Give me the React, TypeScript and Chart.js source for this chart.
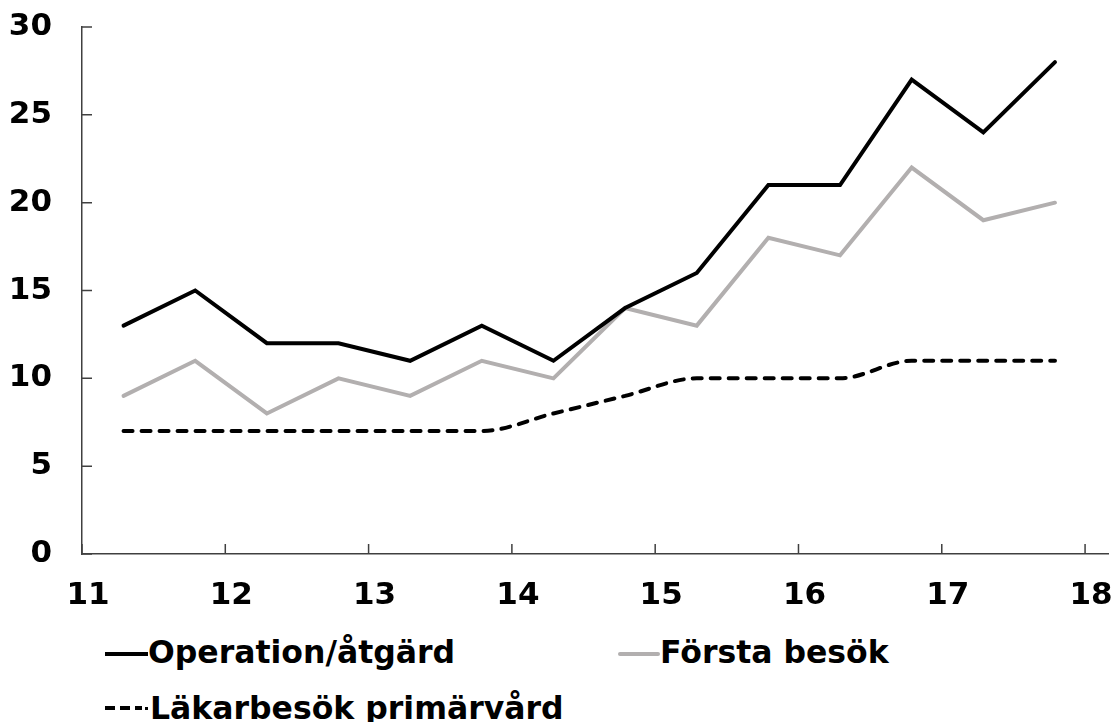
import React, { useEffect, useRef } from "react";
import { Chart, registerables } from "chart.js";

Chart.register(...registerables);

// ---- data ----
const X_VALUES = [11.29, 11.79, 12.29, 12.79, 13.29, 13.79, 14.29, 14.79, 15.29, 15.79, 16.29, 16.79, 17.29, 17.79];
const OPERATION = [13, 15, 12, 12, 11, 13, 11, 14, 16, 21, 21, 27, 24, 28];
const FORSTA_BESOK = [9, 11, 8, 10, 9, 11, 10, 14, 13, 18, 17, 22, 19, 20];
const LAKARBESOK = [7, 7, 7, 7, 7, 7, 8, 9, 10, 10, 10, 11, 11, 11];
const X_TICKS = [11, 12, 13, 14, 15, 16, 17, 18];
const Y_TICKS = [0, 5, 10, 15, 20, 25, 30];
const SERIES_NAMES = ["Operation/åtgärd", "Första besök", "Läkarbesök primärvård"];

const FONT_FAMILY = "'DejaVu Sans', Verdana, sans-serif";
const TICK_FONT_SIZE = 31;
const LEGEND_FONT_SIZE = 31.5;
const BLACK = "#000000";
const GREY = "#B2AFAF";
const AXIS = "#404040";

const CANVAS_W = 1114;
const CANVAS_H = 620;

const inwardTicks = {
  id: "inwardTicks",
  afterDraw(chart: any) {
    const ctx = chart.ctx;
    const xs = chart.scales.x;
    const ys = chart.scales.y;
    const area = chart.chartArea;
    ctx.save();
    ctx.strokeStyle = AXIS;
    ctx.lineWidth = 1.5;
    ctx.beginPath();
    for (const t of ys.ticks) {
      const py = ys.getPixelForValue(t.value);
      ctx.moveTo(area.left, py);
      ctx.lineTo(area.left + 10, py);
    }
    for (const t of xs.ticks) {
      const px = xs.getPixelForValue(t.value);
      ctx.moveTo(px, area.bottom);
      ctx.lineTo(px, area.bottom - 10);
    }
    ctx.stroke();
    ctx.restore();
  },
};

function toPoints(values: number[]) {
  return X_VALUES.map((x, i) => ({ x, y: values[i] }));
}

export default function App() {
  const canvasRef = useRef<HTMLCanvasElement | null>(null);

  useEffect(() => {
    const canvas = canvasRef.current;
    if (!canvas) return;
    const tickFont = { family: FONT_FAMILY, size: TICK_FONT_SIZE, weight: "bold" as const };
    const chart = new Chart(canvas, {
      type: "line",
      data: {
        datasets: [
          {
            label: SERIES_NAMES[0],
            data: toPoints(OPERATION),
            borderColor: BLACK,
            backgroundColor: BLACK,
            borderWidth: 4,
            pointRadius: 0,
            tension: 0,
            borderCapStyle: "round",
            order: 1,
          },
          {
            label: SERIES_NAMES[1],
            data: toPoints(FORSTA_BESOK),
            borderColor: GREY,
            backgroundColor: GREY,
            borderWidth: 4,
            pointRadius: 0,
            tension: 0,
            borderCapStyle: "round",
            order: 2,
          },
          {
            label: SERIES_NAMES[2],
            data: toPoints(LAKARBESOK),
            borderColor: BLACK,
            backgroundColor: BLACK,
            borderWidth: 4,
            pointRadius: 0,
            cubicInterpolationMode: "monotone",
            borderDash: [9, 9],
            borderCapStyle: "round",
            order: 3,
          },
        ],
      },
      options: {
        animation: false,
        responsive: false,
        devicePixelRatio: 1,
        layout: { autoPadding: false, padding: { top: 27, right: 6, left: 0, bottom: 0 } },
        plugins: {
          legend: { display: false },
          tooltip: { enabled: false },
          title: { display: false },
        },
        scales: {
          x: {
            type: "linear",
            min: 11,
            max: 18.16,
            afterBuildTicks: (scale: any) => {
              scale.ticks = X_TICKS.map((v) => ({ value: v }));
            },
            afterFit: (scale: any) => {
              scale.height = CANVAS_H - 554;
              scale.paddingLeft = 0;
              scale.paddingRight = 0;
              scale.paddingTop = 0;
              scale.paddingBottom = 0;
            },
            grid: { display: false, drawTicks: false },
            border: { display: true, color: AXIS, width: 1.5 },
            ticks: {
              font: tickFont,
              color: BLACK,
              padding: 23,
              labelOffset: 6,
              maxRotation: 0,
              autoSkip: false,
            },
          },
          y: {
            type: "linear",
            min: 0,
            max: 30,
            afterBuildTicks: (scale: any) => {
              scale.ticks = Y_TICKS.map((v) => ({ value: v }));
            },
            afterFit: (scale: any) => {
              scale.width = 82;
              scale.paddingLeft = 0;
              scale.paddingRight = 0;
              scale.paddingTop = 0;
              scale.paddingBottom = 0;
            },
            grid: { display: false, drawTicks: false },
            border: { display: true, color: AXIS, width: 1.5 },
            ticks: {
              font: tickFont,
              color: BLACK,
              padding: 30,
            },
          },
        },
      } as any,
      plugins: [inwardTicks],
    });
    return () => chart.destroy();
  }, []);

  const textStyle: React.CSSProperties = {
    position: "absolute",
    fontFamily: FONT_FAMILY,
    fontWeight: "bold",
    fontSize: LEGEND_FONT_SIZE,
    lineHeight: "40px",
    height: 40,
    whiteSpace: "nowrap",
    color: BLACK,
  };

  return (
    <div style={{ position: "absolute", left: 0, top: 0, width: CANVAS_W, height: 722, background: "#fff", overflow: "hidden" }}>
      <canvas ref={canvasRef} width={CANVAS_W} height={CANVAS_H} style={{ display: "block", width: CANVAS_W, height: CANVAS_H }} />
      {/* legend row 1 */}
      <div style={{ position: "absolute", left: 105, top: 652, width: 43, height: 4, background: BLACK }} />
      <div style={{ ...textStyle, left: 148, top: 632 }}>{SERIES_NAMES[0]}</div>
      <div style={{ position: "absolute", left: 618, top: 652, width: 42, height: 4, background: GREY, borderRadius: 2 }} />
      <div style={{ ...textStyle, left: 660, top: 632 }}>{SERIES_NAMES[1]}</div>
      {/* legend row 2 */}
      <svg style={{ position: "absolute", left: 104, top: 702 }} width={48} height={12}>
        <rect x={1} y={4} width={10} height={4} fill={BLACK} />
        <rect x={16} y={4} width={10} height={4} fill={BLACK} />
        <rect x={31} y={4} width={7} height={4} fill={BLACK} />
        <rect x={41} y={5} width={3} height={3} fill={BLACK} />
      </svg>
      <div style={{ ...textStyle, left: 150, top: 688 }}>{SERIES_NAMES[2]}</div>
    </div>
  );
}
